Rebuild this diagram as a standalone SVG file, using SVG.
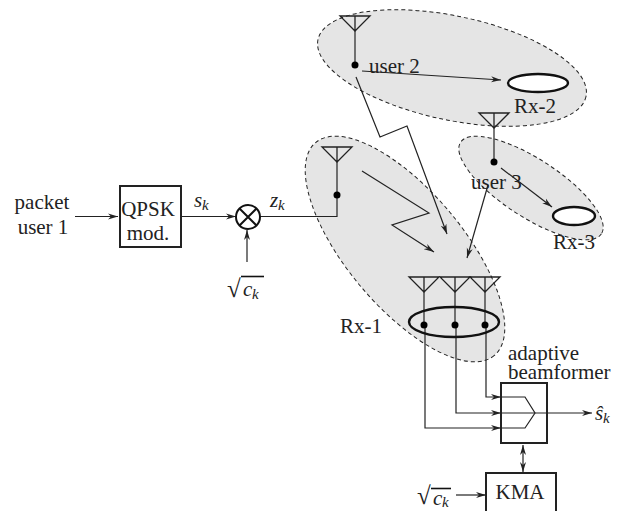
<svg xmlns="http://www.w3.org/2000/svg" width="618" height="511" viewBox="0 0 618 511">
<style>
text{font-family:"Liberation Serif","Times New Roman",serif;font-size:21px;fill:#222}
.i{font-style:italic}
.sub{font-style:italic;font-size:15px}
.rad{font-size:25px}
.zone{fill:#e5e5e5;stroke:#222;stroke-width:1;stroke-dasharray:4 3}
.l{fill:none;stroke:#222;stroke-width:1.2}
.a{fill:none;stroke:#222;stroke-width:1.2;marker-end:url(#ah)}
.rx{fill:#fff;stroke:#111;stroke-width:2.4}
.d{fill:#000}
.box{fill:none;stroke:#222;stroke-width:2}
</style>
<defs>
<marker id="ah" markerUnits="userSpaceOnUse" markerWidth="12" markerHeight="8" refX="10" refY="4" orient="auto"><path d="M0 1L10 4L0 7L3 4Z" fill="#222"/></marker>
<marker id="as" markerUnits="userSpaceOnUse" markerWidth="12" markerHeight="8" refX="0" refY="4" orient="auto"><path d="M10 1L0 4L10 7L7 4Z" fill="#222"/></marker>
<path id="ant" d="M-15 0H15L0 15ZM0 0V15" fill="none" stroke="#222" stroke-width="1.3"/>
</defs>
<g id="zones">
<ellipse id="zone-rx2" class="zone" cx="452" cy="68" rx="137" ry="52" transform="rotate(12 452 68)"/>
<ellipse id="zone-rx3" class="zone" cx="531" cy="188" rx="84" ry="29" transform="rotate(33 531 188)"/>
<ellipse id="zone-rx1" class="zone" cx="405" cy="249" rx="139" ry="58" transform="rotate(50 405 249)"/>
</g>
<g id="connectors">
<path class="a" d="M75 216.500H118"/>
<path class="a" d="M181 216.500H236"/>
<path class="a" d="M247 262V230"/>
<path class="l" d="M260 216.500H337V162"/>
<path class="l" d="M355 31V65"/>
<path class="l" d="M494 128V162"/>
<path class="a" d="M362 71L501 80"/>
<path class="a" d="M501 168L552 207"/>
<path class="a" d="M356 77L380 137L407 126L447 234"/>
<path class="a" d="M362 171L429 213L392 225L434 252"/>
<path class="a" d="M488 185L467 258"/>
<path class="l" d="M424 292V325"/>
<path class="l" d="M455 292V325"/>
<path class="l" d="M485 292V325"/>
<path class="a" d="M425 325V428H501"/>
<path class="a" d="M456 325V413H501"/>
<path class="a" d="M486 325V397H501"/>
<path class="l" d="M501 397H525L535 413L525 428H501"/>
<path class="a" d="M501 413H592"/>
<path d="M523 445V472" class="l" marker-start="url(#as)" marker-end="url(#ah)"/>
<path class="a" d="M456 495H486"/>
</g>
<g id="input"><text x="42" y="209" text-anchor="middle">packet</text><text x="43" y="234" text-anchor="middle">user 1</text></g>
<g id="qpsk"><rect class="box" x="120" y="186" width="61" height="61"/><text x="148" y="216" text-anchor="middle">QPSK</text><text x="148" y="240" text-anchor="middle">mod.</text></g>
<g id="sk"><text class="i" x="194" y="207">s</text><text class="sub" x="202" y="210">k</text></g>
<g id="mixer"><circle cx="248" cy="217" r="12" fill="#fff" stroke="#111" stroke-width="2"/><path d="M239.500 208.500L256.500 225.500M256.500 208.500L239.500 225.500" stroke="#111" stroke-width="2"/></g>
<g id="zk"><text class="i" x="270" y="207">z</text><text class="sub" x="278" y="210">k</text></g>
<g id="sqrt1"><text class="rad" x="227" y="297">√</text><path d="M241 276.500H264" stroke="#111" stroke-width="1.600"/><text class="i" x="243" y="296">c</text><text class="sub" x="252" y="299">k</text></g>
<g id="antenna-1"><use href="#ant" x="337" y="147"/><circle class="d" cx="337" cy="195" r="3.500"/></g>
<g id="antenna-2"><use href="#ant" x="355" y="16"/><circle class="d" cx="355" cy="65" r="3.500"/><text x="369" y="73">user 2</text></g>
<g id="antenna-3"><use href="#ant" x="494" y="113"/><circle class="d" cx="494" cy="162" r="3.500"/><text x="471" y="189">user 3</text></g>
<g id="rx2"><ellipse class="rx" cx="538" cy="83" rx="30" ry="9"/><text x="514" y="113">Rx-2</text></g>
<g id="rx3"><ellipse class="rx" cx="574" cy="216" rx="21" ry="9"/><text x="553" y="249">Rx-3</text></g>
<g id="rx1"><use href="#ant" x="424" y="277"/><use href="#ant" x="455" y="277"/><use href="#ant" x="485" y="277"/><ellipse cx="454" cy="322" rx="45" ry="15" fill="none" stroke="#111" stroke-width="2.400"/><circle class="d" cx="424" cy="325" r="3.500"/><circle class="d" cx="455" cy="325" r="3.500"/><circle class="d" cx="485" cy="325" r="3.500"/><text x="340" y="333">Rx-1</text></g>
<g id="beamformer"><rect class="box" x="501" y="383" width="46" height="60"/><text x="508" y="360">adaptive</text><text x="508" y="379">beamformer</text></g>
<g id="shat"><text class="i" x="595" y="420">ŝ</text><text class="sub" x="603" y="423">k</text></g>
<g id="kma"><rect class="box" x="486" y="473" width="70" height="44"/><text x="520" y="499" text-anchor="middle">KMA</text></g>
<g id="sqrt2"><text class="rad" x="417" y="504">√</text><path d="M431 488.500H451" stroke="#111" stroke-width="1.600"/><text class="i" x="433" y="505">c</text><text class="sub" x="442" y="507">k</text></g>
</svg>
